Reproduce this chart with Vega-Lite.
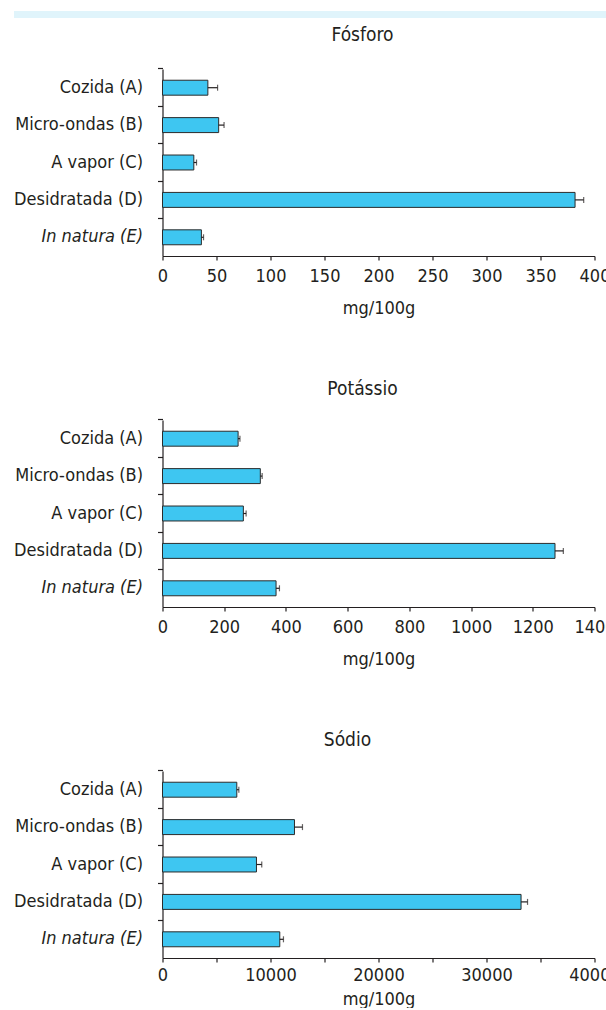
{
  "$schema": "https://vega.github.io/schema/vega-lite/v6.json",
  "padding": {"left": 9.5, "top": 10, "right": 0, "bottom": 0},
  "autosize": {"type": "pad"},
  "background": "white",
  "spacing": 8,
  "config": {
    "font": "DejaVu Sans Condensed, Roboto, sans-serif",
    "view": {"stroke": null},
    "axis": {
      "labelFont": "DejaVu Sans Condensed, Roboto, sans-serif",
      "titleFont": "DejaVu Sans Condensed, Roboto, sans-serif",
      "labelFontSize": 18,
      "titleFontSize": 18,
      "titleFontWeight": "normal",
      "labelColor": "#231f20",
      "titleColor": "#231f20",
      "domainColor": "#231f20",
      "tickColor": "#231f20",
      "domainWidth": 1.2,
      "tickWidth": 1.2,
      "labelOverlap": false,
      "labelFlush": false,
      "grid": false
    },
    "axisX": {"tickSize": 4, "labelPadding": 7, "titlePadding": 14},
    "axisY": {"tickSize": 5, "labelPadding": 15},
    "title": {
      "font": "DejaVu Sans Condensed, Roboto, sans-serif",
      "fontSize": 19,
      "fontWeight": "normal",
      "color": "#231f20",
      "frame": "group",
      "baseline": "alphabetic"
    }
  },
  "datasets": {
    "minerais": [
      {"mineral": "Fósforo", "metodo": "Cozida (A)", "valor": 42, "limite": 51},
      {"mineral": "Fósforo", "metodo": "Micro-ondas (B)", "valor": 52, "limite": 57},
      {"mineral": "Fósforo", "metodo": "A vapor (C)", "valor": 29, "limite": 31.5},
      {"mineral": "Fósforo", "metodo": "Desidratada (D)", "valor": 382, "limite": 390},
      {"mineral": "Fósforo", "metodo": "In natura (E)", "valor": 36, "limite": 38},
      {"mineral": "Potássio", "metodo": "Cozida (A)", "valor": 245, "limite": 251},
      {"mineral": "Potássio", "metodo": "Micro-ondas (B)", "valor": 317, "limite": 323},
      {"mineral": "Potássio", "metodo": "A vapor (C)", "valor": 262, "limite": 271},
      {"mineral": "Potássio", "metodo": "Desidratada (D)", "valor": 1272, "limite": 1299},
      {"mineral": "Potássio", "metodo": "In natura (E)", "valor": 368, "limite": 379},
      {"mineral": "Sódio", "metodo": "Cozida (A)", "valor": 6880, "limite": 7070},
      {"mineral": "Sódio", "metodo": "Micro-ondas (B)", "valor": 12220, "limite": 12960},
      {"mineral": "Sódio", "metodo": "A vapor (C)", "valor": 8700, "limite": 9190},
      {"mineral": "Sódio", "metodo": "Desidratada (D)", "valor": 33200, "limite": 33800},
      {"mineral": "Sódio", "metodo": "In natura (E)", "valor": 10860, "limite": 11200}
    ]
  },
  "vconcat": [
    {
      "width": 444,
      "height": 7,
      "view": {"fill": "#e0f4fb", "stroke": null},
      "data": {"values": [{"faixa": "topo"}]},
      "mark": {"type": "rect", "color": "#e0f4fb"},
      "encoding": {
        "y": {
          "field": "faixa", "type": "nominal",
          "scale": {"paddingInner": 0, "paddingOuter": 0},
          "axis": {
            "title": null, "labels": false, "domain": false,
            "ticks": true, "tickSize": 149, "tickWidth": 7, "tickCap": "butt", "tickColor": "#e0f4fb"
          }
        }
      }
    },
    {
      "spacing": 63,
      "vconcat": [
        {
          "width": 432,
          "height": 187,
          "title": {"text": "Fósforo", "offset": 22, "dx": -16},
          "data": {"name": "minerais"},
          "transform": [{"filter": "datum.mineral === 'Fósforo'"}],
          "encoding": {
            "y": {
              "field": "metodo", "type": "nominal", "sort": null,
              "scale": {"paddingInner": 0.6, "paddingOuter": 0.3},
              "axis": {
                "title": null, "bandPosition": -0.75, "minExtent": 149, "labelLimit": 200,
                "labelFontStyle": {"condition": {"test": "datum.value === 'In natura (E)'", "value": "italic"}, "value": "normal"}
              }
            }
          },
          "layer": [
            {
              "mark": {"type": "bar", "fill": "#3ec6f1", "stroke": "#2b2b2b", "strokeWidth": 1},
              "encoding": {
                "x": {
                  "field": "valor", "type": "quantitative",
                  "scale": {"domain": [0, 400], "nice": false},
                  "axis": {"title": "mg/100g", "format": "d", "values": [0, 50, 100, 150, 200, 250, 300, 350, 400]}
                }
              }
            },
            {
              "mark": {"type": "rule", "color": "#231f20", "strokeWidth": 1.2},
              "encoding": {"x": {"field": "valor", "type": "quantitative"}, "x2": {"field": "limite"}}
            },
            {
              "mark": {"type": "tick", "orient": "vertical", "size": 6, "thickness": 1.2, "color": "#231f20"},
              "encoding": {"x": {"field": "limite", "type": "quantitative"}}
            }
          ]
        },
        {
          "width": 432,
          "height": 187,
          "title": {"text": "Potássio", "offset": 19, "dx": -16},
          "data": {"name": "minerais"},
          "transform": [{"filter": "datum.mineral === 'Potássio'"}],
          "encoding": {
            "y": {
              "field": "metodo", "type": "nominal", "sort": null,
              "scale": {"paddingInner": 0.6, "paddingOuter": 0.3},
              "axis": {
                "title": null, "bandPosition": -0.75, "minExtent": 149, "labelLimit": 200,
                "labelFontStyle": {"condition": {"test": "datum.value === 'In natura (E)'", "value": "italic"}, "value": "normal"}
              }
            }
          },
          "layer": [
            {
              "mark": {"type": "bar", "fill": "#3ec6f1", "stroke": "#2b2b2b", "strokeWidth": 1},
              "encoding": {
                "x": {
                  "field": "valor", "type": "quantitative",
                  "scale": {"domain": [0, 1400], "nice": false},
                  "axis": {"title": "mg/100g", "format": "d", "values": [0, 200, 400, 600, 800, 1000, 1200, 1400]}
                }
              }
            },
            {
              "mark": {"type": "rule", "color": "#231f20", "strokeWidth": 1.2},
              "encoding": {"x": {"field": "valor", "type": "quantitative"}, "x2": {"field": "limite"}}
            },
            {
              "mark": {"type": "tick", "orient": "vertical", "size": 6, "thickness": 1.2, "color": "#231f20"},
              "encoding": {"x": {"field": "limite", "type": "quantitative"}}
            }
          ]
        },
        {
          "width": 432,
          "height": 187,
          "title": {"text": "Sódio", "offset": 19, "dx": -31},
          "data": {"name": "minerais"},
          "transform": [{"filter": "datum.mineral === 'Sódio'"}],
          "encoding": {
            "y": {
              "field": "metodo", "type": "nominal", "sort": null,
              "scale": {"paddingInner": 0.6, "paddingOuter": 0.3},
              "axis": {
                "title": null, "bandPosition": -0.75, "minExtent": 149, "labelLimit": 200,
                "labelFontStyle": {"condition": {"test": "datum.value === 'In natura (E)'", "value": "italic"}, "value": "normal"}
              }
            }
          },
          "layer": [
            {
              "mark": {"type": "bar", "fill": "#3ec6f1", "stroke": "#2b2b2b", "strokeWidth": 1},
              "encoding": {
                "x": {
                  "field": "valor", "type": "quantitative",
                  "scale": {"domain": [0, 40000], "nice": false},
                  "axis": {
                    "title": "mg/100g", "labelPadding": 4, "titlePadding": 6, "format": "d",
                    "values": [0, 5000, 10000, 15000, 20000, 25000, 30000, 35000, 40000],
                    "labelExpr": "datum.value % 10000 === 0 ? datum.label : ''"
                  }
                }
              }
            },
            {
              "mark": {"type": "rule", "color": "#231f20", "strokeWidth": 1.2},
              "encoding": {"x": {"field": "valor", "type": "quantitative"}, "x2": {"field": "limite"}}
            },
            {
              "mark": {"type": "tick", "orient": "vertical", "size": 6, "thickness": 1.2, "color": "#231f20"},
              "encoding": {"x": {"field": "limite", "type": "quantitative"}}
            }
          ]
        }
      ]
    }
  ]
}
